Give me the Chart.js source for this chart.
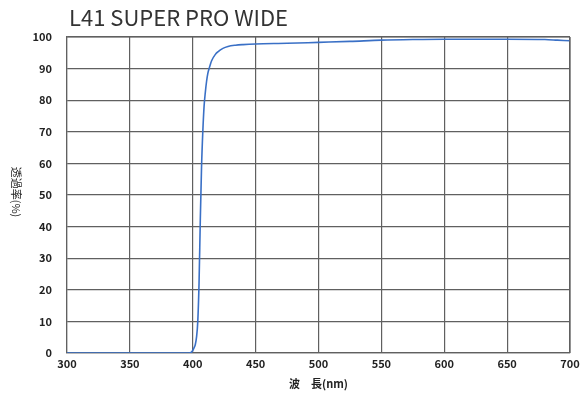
<!DOCTYPE html>
<html>
<head>
<meta charset="utf-8">
<script src="https://cdn.jsdelivr.net/npm/chart.js@4.4.1/dist/chart.umd.min.js"></script>
<style>
html,body{margin:0;padding:0;background:#fff;}
#wrap{width:584px;height:394px;position:relative;}
</style>
</head>
<body>
<div id="wrap"><canvas id="c" width="584" height="394"></canvas></div>
<script>
const chartTitle = "L41 SUPER PRO WIDE";
const xAxisTitle = "波　長(nm)";
const yAxisTitle = "透過率(%)";
const wavelength = [300, 350, 390, 396, 398, 399, 400, 401, 402, 403, 404, 405, 406, 407, 408, 409, 410, 411, 412, 413, 415, 418, 420, 424, 428, 434, 440, 450, 475, 500, 525, 550, 575, 600, 650, 680, 690, 700];
const transmittance = [0, 0, 0, 0, 0.1, 0.3, 0.8, 1.6, 2.6, 5, 10, 22, 42, 59, 70, 78, 82.5, 86, 88.5, 90, 92.5, 94.5, 95.3, 96.4, 97, 97.4, 97.6, 97.8, 98, 98.3, 98.6, 99, 99.2, 99.3, 99.3, 99.2, 99.0, 98.8];
const xTicks = [300, 350, 400, 450, 500, 550, 600, 650, 700];
const yTicks = [0, 10, 20, 30, 40, 50, 60, 70, 80, 90, 100];

const FONT = '"Noto Sans CJK JP", "Noto Sans", sans-serif';

const textPlugin = {
  id: 'texts',
  afterDraw(chart) {
    const ctx = chart.ctx;
    const a = chart.chartArea;
    ctx.save();
    ctx.fillStyle = '#333';
    ctx.font = '22px ' + FONT;
    ctx.textAlign = 'left';
    ctx.textBaseline = 'middle';
    ctx.fillText(chartTitle, 69, 18);
    ctx.font = '11px ' + FONT;
    ctx.fillStyle = '#222';
    ctx.translate(16, (a.top + a.bottom) / 2 - 3);
    ctx.rotate(Math.PI / 2);
    ctx.textAlign = 'center';
    ctx.textBaseline = 'middle';
    ctx.fillText(yAxisTitle, 0, 0);
    ctx.restore();
  }
};

new Chart(document.getElementById('c'), {
  type: 'line',
  data: {
    datasets: [{
      data: wavelength.map((w, i) => ({x: w, y: transmittance[i]})),
      borderColor: '#3a70c6',
      borderWidth: 1.6,
      pointRadius: 0,
      fill: false,
      cubicInterpolationMode: 'monotone'
    }]
  },
  options: {
    responsive: false,
    animation: false,
    events: [],
    layout: {padding: {left: 0, right: 14, top: 37, bottom: 4}},
    plugins: {legend: {display: false}, tooltip: {enabled: false}, title: {display: false}},
    scales: {
      x: {
        type: 'linear',
        min: 300, max: 700,
        afterBuildTicks(s) { s.ticks = xTicks.map(v => ({value: v})); },
        afterFit(s) { s.height = 37; },
        grid: {color: '#606060', lineWidth: 1.2, drawTicks: false},
        border: {color: '#606060', width: 1.2},
        ticks: {color: '#222', font: {family: FONT, size: 11, weight: 'bold'}, padding: 4, maxRotation: 0},
        title: {display: true, text: xAxisTitle, color: '#222', font: {family: FONT, size: 11, weight: 'bold'}, padding: {top: 0, bottom: 0}}
      },
      y: {
        min: 0, max: 100,
        afterBuildTicks(s) { s.ticks = yTicks.map(v => ({value: v})); },
        afterFit(s) { s.width = 67; },
        grid: {color: '#606060', lineWidth: 1.2, drawTicks: false},
        border: {color: '#606060', width: 1.2},
        ticks: {color: '#222', font: {family: FONT, size: 11, weight: 'bold'}, padding: 15}
      }
    }
  },
  plugins: [textPlugin, {
    id: 'rightBorder',
    afterDatasetsDraw(chart) {
      const ctx = chart.ctx, a = chart.chartArea;
      ctx.save();
      ctx.strokeStyle = '#606060';
      ctx.lineWidth = 1.2;
      ctx.beginPath();
      ctx.moveTo(a.right, a.top); ctx.lineTo(a.right, a.bottom);
      ctx.moveTo(a.left, a.top); ctx.lineTo(a.right, a.top);
      ctx.stroke();
      ctx.restore();
    }
  }]
});
</script>
</body>
</html>
